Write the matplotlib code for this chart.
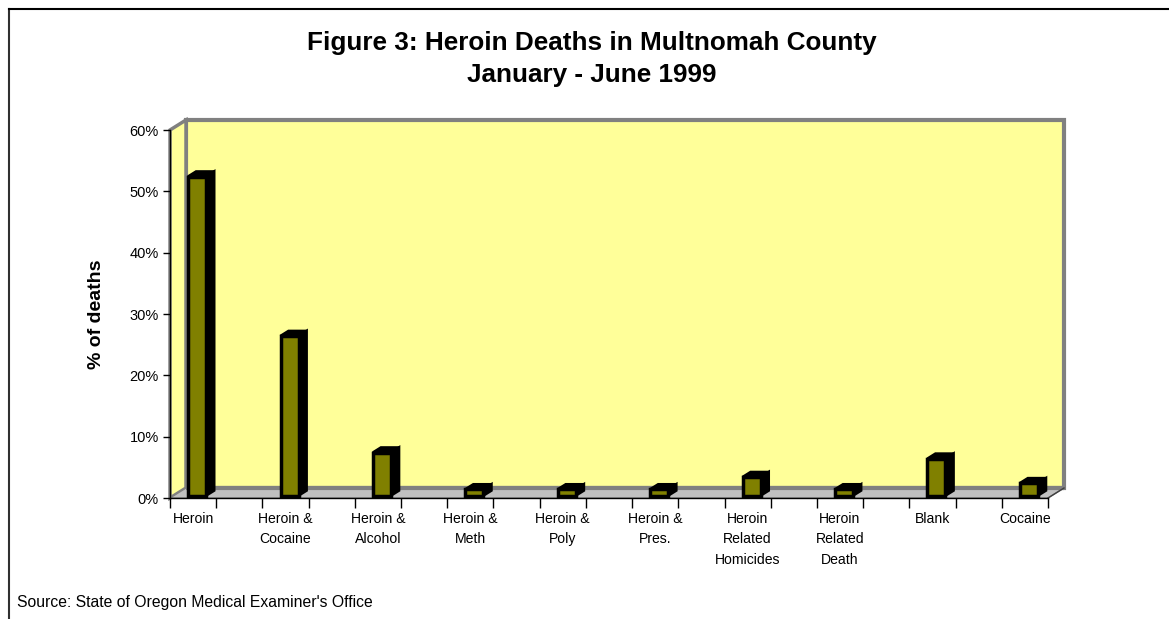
import matplotlib
matplotlib.use("Agg")
import matplotlib.pyplot as plt
from matplotlib.patches import Polygon
import numpy as np

plt.rcParams['font.family'] = ['Liberation Sans', 'DejaVu Sans']

categories = ["Heroin", "Heroin &\nCocaine", "Heroin &\nAlcohol", "Heroin &\nMeth",
              "Heroin &\nPoly", "Heroin &\nPres.", "Heroin\nRelated\nHomicides",
              "Heroin\nRelated\nDeath", "Blank", "Cocaine"]
pct_deaths = [52, 26, 7, 1, 1, 1, 3, 1, 6, 2]
ytick_vals = [0, 10, 20, 30, 40, 50, 60]
ytick_labels = ["0%", "10%", "20%", "30%", "40%", "50%", "60%"]

W, H = 1169, 619
fig = plt.figure(figsize=(W / 100, H / 100), dpi=100)
fig.patch.set_facecolor("white")

# axes = front plane of the 3-D box
x0p, x1p, y0p, y1p = 170, 1048, 498, 130
ax = fig.add_axes([x0p / W, 1 - y0p / H, (x1p - x0p) / W, (y0p - y1p) / H])
nslots = 2 * len(categories) - 1
ax.set_xlim(0, nslots)
ax.set_ylim(0, 60)
ax.patch.set_visible(False)

# depth offsets in data units
px_x = (x1p - x0p) / nslots
px_y = (y0p - y1p) / 60
dx = 16 / px_x
dy = 10 / px_y

wall_c = "#FFFF99"
border_c = "#808080"
# back wall
ax.add_patch(Polygon([(dx, dy), (nslots + dx, dy), (nslots + dx, 60 + dy), (dx, 60 + dy)],
                     closed=True, facecolor=wall_c, edgecolor=border_c, lw=3, clip_on=False, zorder=1))
# left wall
ax.add_patch(Polygon([(0, 0), (dx, dy), (dx, 60 + dy), (0, 60)],
                     closed=True, facecolor=wall_c, edgecolor=border_c, lw=2.5, clip_on=False, zorder=1.1))
# floor
ax.add_patch(Polygon([(0, 0), (nslots, 0), (nslots + dx, dy), (dx, dy)],
                     closed=True, facecolor="#C0C0C0", edgecolor=border_c, lw=1, clip_on=False, zorder=1.2))
ax.plot([dx, nslots + dx], [dy, dy], color=border_c, lw=3, clip_on=False, zorder=1.3, solid_capstyle="butt")
ax.plot([nslots, nslots + dx], [0, dy], color="#404040", lw=1, clip_on=False, zorder=1.3)

# bars
pos = np.arange(len(categories)) * 2 + 0.5
bw = 18 / px_x
f0, f1 = 0.25, 0.75
front_x = pos + f0 * dx
bottom = f0 * dy
ax.bar(front_x, pct_deaths, width=bw, bottom=bottom, color="#808000",
       edgecolor="black", lw=2.5, zorder=3, clip_on=False)
for xc, v in zip(front_x, pct_deaths):
    xl, xr = xc - bw / 2, xc + bw / 2
    top = v + bottom
    ddx, ddy = (f1 - f0) * dx, (f1 - f0) * dy
    ax.add_patch(Polygon([(xr, bottom), (xr + ddx, bottom + ddy), (xr + ddx, top + ddy), (xr, top)],
                         closed=True, facecolor="black", edgecolor="black", lw=2, zorder=2.9, clip_on=False))
    ax.add_patch(Polygon([(xl, top), (xr, top), (xr + ddx, top + ddy), (xl + ddx, top + ddy)],
                         closed=True, facecolor="black", edgecolor="black", lw=2, zorder=2.9, clip_on=False))

# axes styling
for s in ["top", "right"]:
    ax.spines[s].set_visible(False)
for s in ["left", "bottom"]:
    ax.spines[s].set_color("black")
    ax.spines[s].set_linewidth(1)
    ax.spines[s].set_zorder(2)
ax.set_yticks(ytick_vals)
ax.set_yticklabels(ytick_labels, fontsize=10.5)
ax.tick_params(axis="y", length=5, width=1, pad=3, colors="black")
ax.set_xticks(np.arange(nslots + 1))
ax.set_xticklabels([])
ax.tick_params(axis="x", which="major", length=7, width=1, direction="out")
ax.set_xticks(pos, minor=True)
ax.set_xticklabels(categories, minor=True, fontsize=10.1, linespacing=1.58, va="top")
ax.tick_params(axis="x", which="minor", length=0, pad=10)
ax.set_ylabel("% of deaths", fontsize=14, fontweight="bold", labelpad=18)

fig.text(592 / W, 1 - 59 / H, "Figure 3: Heroin Deaths in Multnomah County\nJanuary - June 1999",
         ha="center", va="center", fontsize=18.8, fontweight="bold", linespacing=1.43)
fig.text(17 / W, 1 - 602 / H, "Source: State of Oregon Medical Examiner's Office",
         ha="left", va="center", fontsize=11.3)

# outer frame (left and top edges visible)
fig.add_artist(plt.Line2D([8.5 / W, 8.5 / W], [0, 1 - 9 / H], color="#303030", lw=1.5, transform=fig.transFigure))
fig.add_artist(plt.Line2D([8.5 / W, 1], [1 - 9 / H, 1 - 9 / H], color="black", lw=1.5, transform=fig.transFigure))

fig.savefig("out.png", dpi=100)
